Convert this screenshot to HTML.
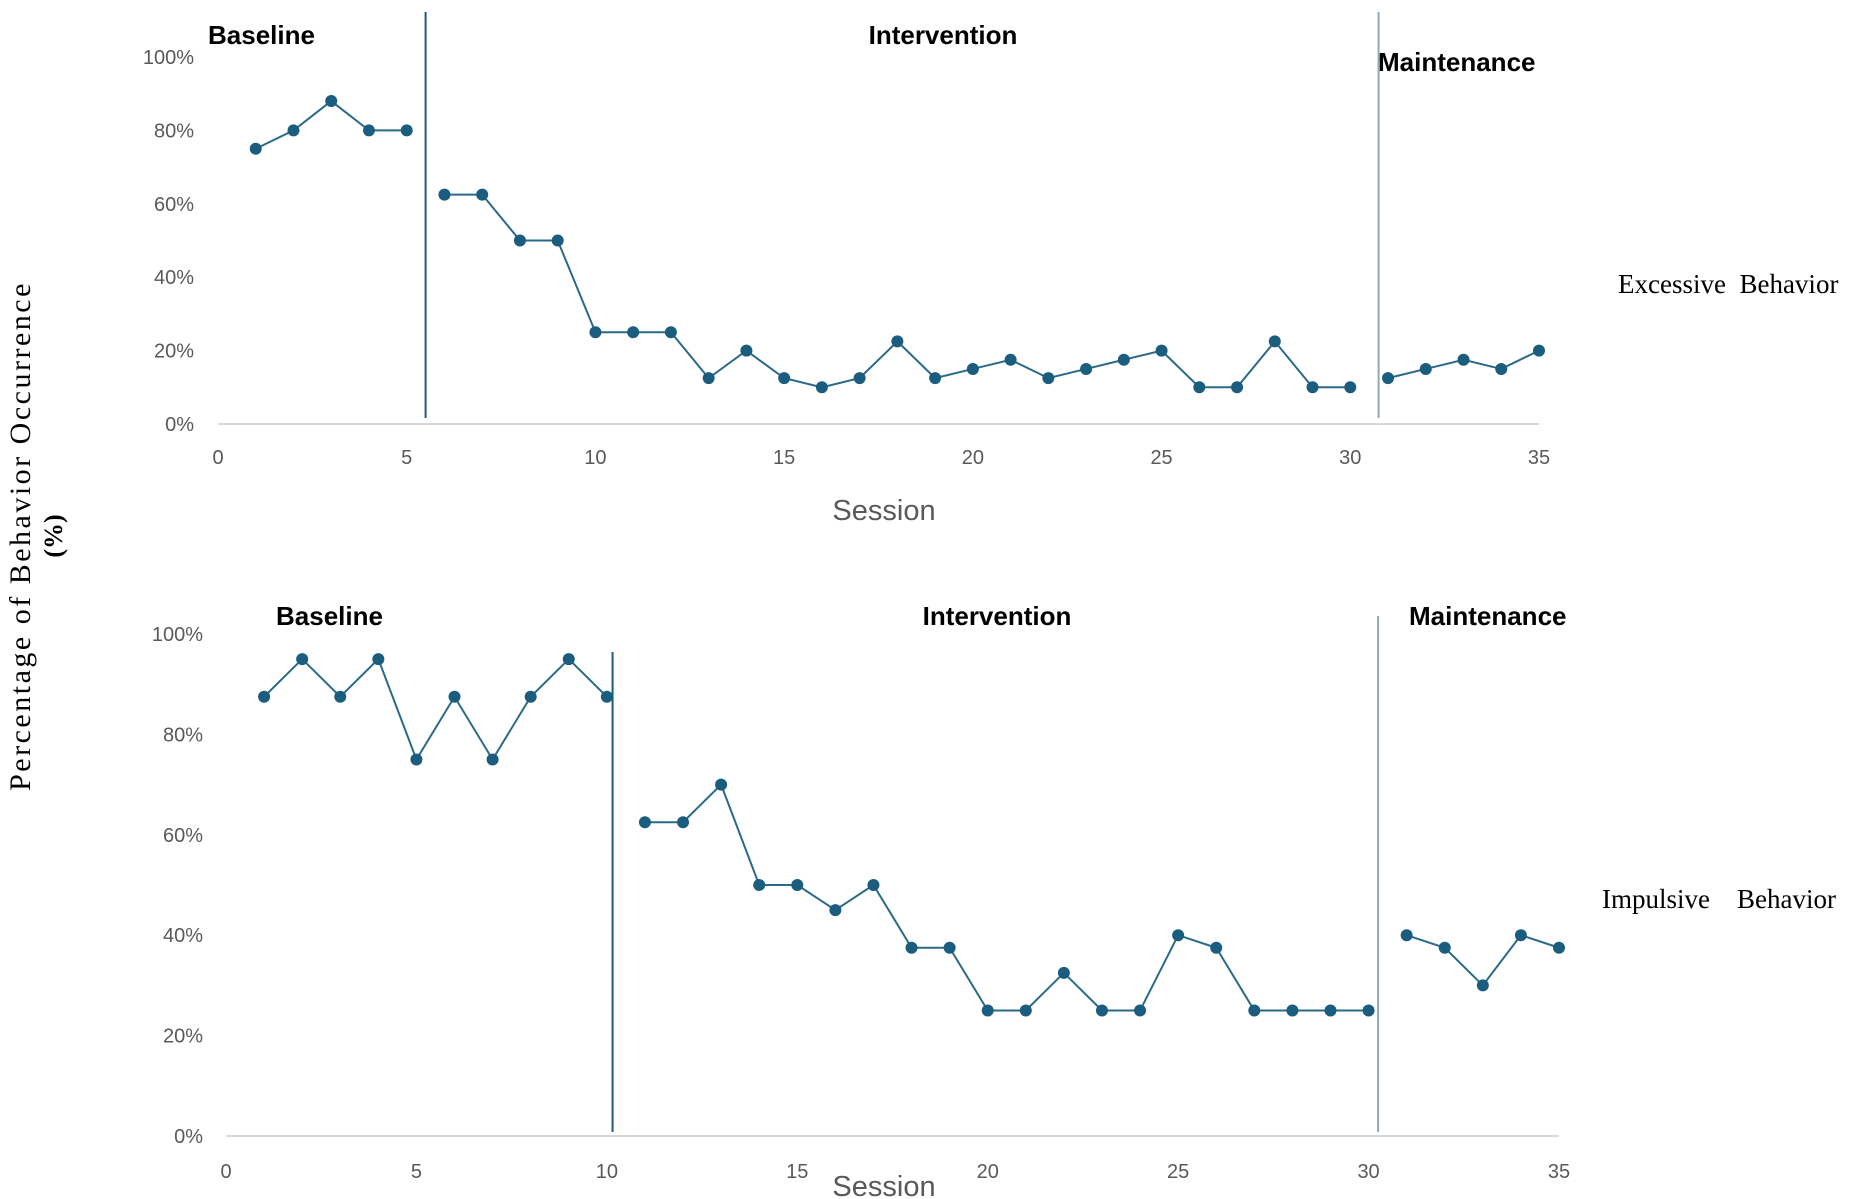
<!DOCTYPE html>
<html><head><meta charset="utf-8"><style>
body{margin:0;background:#fff;}
svg{display:block}
.t{font-family:"Liberation Sans",sans-serif;fill:#595959;font-size:20px}
.h{font-family:"Liberation Sans",sans-serif;font-weight:bold;font-size:26px;fill:#000}
.s{font-family:"Liberation Serif",serif;font-size:27px;fill:#000}
</style></head><body>
<svg id="c" width="1866" height="1199">
<text class="s" transform="translate(30,536) rotate(-90)" text-anchor="middle" letter-spacing="2.5" style="font-size:30px">Percentage of Behavior Occurrence</text>
<text class="s" transform="translate(62,536) rotate(-90)" text-anchor="middle" font-weight="bold" style="font-size:26px">(%)</text>
</svg>
<script>
const topCats=[1,2,3,4,5,6,7,8,9,10,11,12,13,14,15,16,17,18,19,20,21,22,23,24,25,26,27,28,29,30,31,32,33,34,35];
const topBaseline=[75,80,88,80,80];
const topIntervention=[62.5,62.5,50,50,25,25,25,12.5,20,12.5,10,12.5,22.5,12.5,15,17.5,12.5,15,17.5,20,10,10,22.5,10,10];
const topMaintenance=[12.5,15,17.5,15,20];
const botBaseline=[87.5,95,87.5,95,75,87.5,75,87.5,95,87.5];
const botIntervention=[62.5,62.5,70,50,50,45,50,37.5,37.5,25,25,32.5,25,25,40,37.5,25,25,25,25];
const botMaintenance=[40,37.5,30,40,37.5];
const xTicks=[0,5,10,15,20,25,30,35];
const yTicks=[0,20,40,60,80,100];
const NS='http://www.w3.org/2000/svg';
const svg=document.getElementById('c');
function mk(t,a,txt){const e=document.createElementNS(NS,t);for(const k in a)e.setAttribute(k,a[k]);if(txt!==undefined)e.textContent=txt;svg.appendChild(e);return e;}
function panel(p,name){
 const X=v=>p.x0+(p.x35-p.x0)*v/35, Y=v=>p.y0+(p.y100-p.y0)*v/100;
 let ax=mk('line',{x1:p.x0,x2:p.x35,y1:p.y0,y2:p.y0,stroke:'#d9d9d9','stroke-width':2});
 
 
 yTicks.forEach(v=>{const t=mk('text',{x:p.yl,y:Y(v)+7,'text-anchor':'end',class:'t'},v+'%');
  
  });
 xTicks.forEach(v=>{const t=mk('text',{x:X(v),y:p.xl,'text-anchor':'middle',class:'t'},String(v));
  
  });
 p.lines.forEach((l,i)=>{const e=mk('line',{x1:X(l.v),x2:X(l.v),y1:l.a,y2:l.b,stroke:l.c,'stroke-width':2});
  
  });
 let start=1;
 p.series.forEach((s,si)=>{
  const pts=s.map((v,i)=>[X(start+i),Y(v)]);
  const pl=mk('polyline',{points:pts.map(q=>q.join(',')).join(' '),fill:'none',stroke:'#2a6a88','stroke-width':2});
  
  
  pts.forEach(q=>{const c=mk('circle',{cx:q[0],cy:q[1],r:6,fill:'#1b5d7e'});
   
   });
  start+=s.length;});
}
panel({x0:218,x35:1539,y0:424,y100:57,yl:194,xl:464,
 lines:[{v:5.5,a:12,b:418,c:'#1f5a7e'},{v:30.75,a:12,b:418,c:'#8fa9b8'}],
 series:[topBaseline,topIntervention,topMaintenance]},'excessive');
panel({x0:226,x35:1559,y0:1136,y100:634,yl:203,xl:1178,
 lines:[{v:10.15,a:652,b:1132,c:'#1f5a7e'},{v:30.25,a:616,b:1132,c:'#8fa9b8'}],
 series:[botBaseline,botIntervention,botMaintenance]},'impulsive');
const labels=[
 ['Baseline',208,44,'start','h','top-baseline-label'],
 ['Intervention',943,44,'middle','h','top-intervention-label'],
 ['Maintenance',1378,71,'start','h','top-maintenance-label'],
 ['Baseline',276,625,'start','h','bottom-baseline-label'],
 ['Intervention',997,625,'middle','h','bottom-intervention-label'],
 ['Maintenance',1409,625,'start','h','bottom-maintenance-label'],
 ['Excessive  Behavior',1618,293,'start','s','excessive-behavior-label'],
 ['Impulsive    Behavior',1602,908,'start','s','impulsive-behavior-label'],
 ['Session',884,520,'middle','t','top-x-axis-title'],
 ['Session',884,1196,'middle','t','bottom-x-axis-title']];
labels.forEach(l=>{const e=mk('text',{x:l[1],y:l[2],'text-anchor':l[3],class:l[4]},l[0]);
 e.setAttribute('style',l[0]==='Session'?'white-space:pre;font-size:29px':'white-space:pre');
 
 });
</script>
</body></html>
